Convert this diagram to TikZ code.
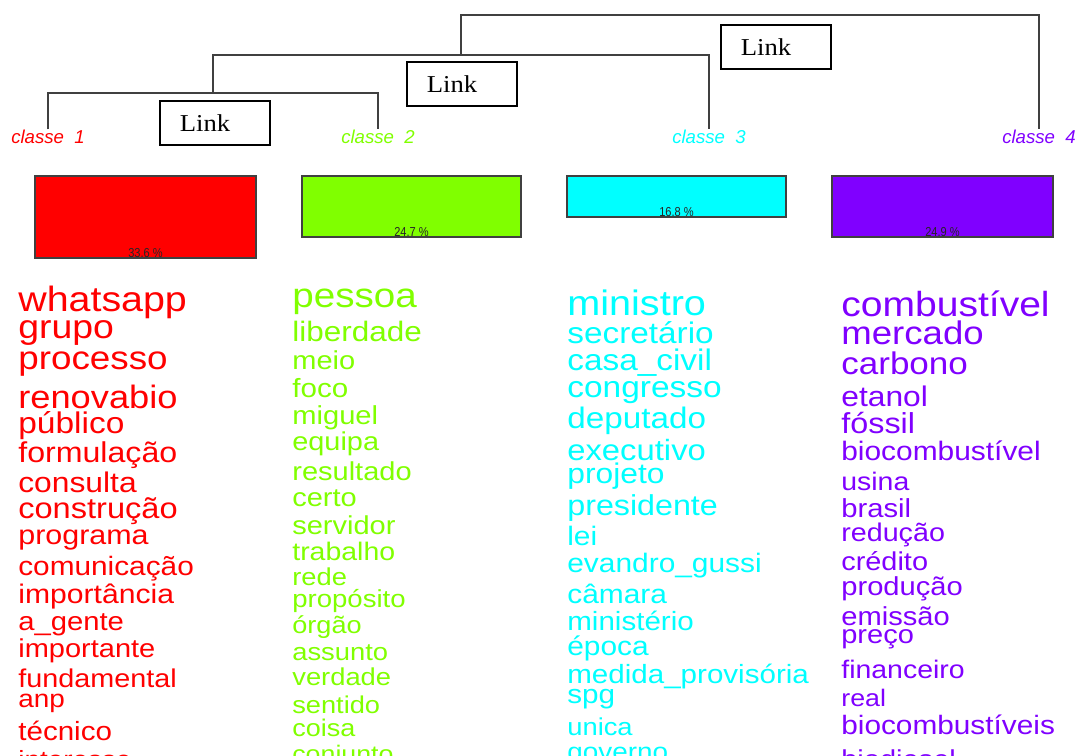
\documentclass[tikz,border=0pt]{standalone}
\usepackage{fontspec}
\setmainfont{Liberation Sans}
\newfontfamily\cloudfont[FakeStretch=1.12]{Liberation Sans}
\newfontfamily\linkfont[FakeStretch=1.1]{Liberation Serif}
\newfontfamily\pctfont[FakeStretch=0.85]{Liberation Sans}

\definecolor{classeA}{HTML}{FF0000}
\definecolor{classeB}{HTML}{80FF00}
\definecolor{classeC}{HTML}{00FFFF}
\definecolor{classeD}{HTML}{8000FF}

\begin{document}
\begin{tikzpicture}[
        x = 0.02cm, y = -0.02cm,
        tree/.style = {draw = black!75, line width = 0.9pt},
        linkbox/.style = {%
            draw, line width = 0.9pt, anchor = north west,
            inner xsep = 0.4cm, inner ysep = 0pt,
            text width = 1.4cm, minimum height = 0.88cm,
            font = \linkfont\fontsize{13.8}{14}\selectfont
        },
        classlabel/.style = {%
            anchor = base, inner sep = 0pt,
            font = \itshape\fontsize{10.6}{12}\selectfont
        },
        bar/.style = {draw = black!75, line width = 0.7pt},
        pct/.style = {%
            anchor = base, inner sep = 0pt, text = black!85,
            font = \pctfont\fontsize{7.4}{8}\selectfont
        },
        word/.style = {anchor = base west, inner sep = 0pt}
    ]

        \useasboundingbox (0,0) rectangle (1077,756);
        \clip (0,0) rectangle (1077,756);

        % Class labels.
        \node[classlabel, text = classeA] (c1) at (48,144)   {classe\ \ 1};
        \node[classlabel, text = classeB] (c2) at (378,144)  {classe\ \ 2};
        \node[classlabel, text = classeC] (c3) at (709,144)  {classe\ \ 3};
        \node[classlabel, text = classeD] (c4) at (1039,144) {classe\ \ 4};

        % Junctions of the tree.
        \coordinate (j12)  at (213,93);
        \coordinate (j123) at (461,55);
        \coordinate (jall) at (461,15);

        % Tree.
        \draw[tree] ([yshift = 0.5pt]c1.north) |- (j12) -| ([yshift = 0.5pt]c2.north);
        \draw[tree] (j12) -- (j12 |- j123) -| ([yshift = 0.5pt]c3.north);
        \draw[tree] (j123) -- (jall) -| ([yshift = 0.5pt]c4.north);

        % Link boxes.
        \node[linkbox] (l1) at (159,100) {Link};
        \node[linkbox] (l2) at (406,61)  {Link};
        \node[linkbox] (l3) at (720,24)  {Link};

        % Bars with their shares.
        \draw[bar, fill = classeA] (35,176)  rectangle (256,258);
        \draw[bar, fill = classeB] (302,176) rectangle (521,237);
        \draw[bar, fill = classeC] (567,176) rectangle (786,217);
        \draw[bar, fill = classeD] (832,176) rectangle (1053,237);
        \node[pct] (p1) at (145.5,257.5) {33.6 \%};
        \node[pct] (p2) at (411.5,236.5) {24.7 \%};
        \node[pct] (p3) at (676.5,216.5) {16.8 \%};
        \node[pct] (p4) at (942.5,236.5) {24.9 \%};

        % Words of classe 1.
        \foreach \txt/\yy/\s [count = \i] in {%
            whatsapp/312/35.3, grupo/338/33.5, processo/370/33,
            renovabio/408/32.5, público/433/30, formulação/462/28.8,
            consulta/492/28.5, construção/518/29.2, programa/544/27.3,
            comunicação/575/26.7, importância/603/27, a\_gente/630/26.2,
            importante/657/26, fundamental/687/25.8, anp/707/25,
            técnico/740/26.5, interesse/768/25}{%
            \pgfmathsetmacro\fs{\s*0.5669}
            \node[word, text = classeA, font = \cloudfont\fontsize{\fs}{\fs}\selectfont]
                (a\i) at (18,\yy) {\txt};
        }

        % Words of classe 2.
        \foreach \txt/\yy/\s [count = \i] in {%
            pessoa/308/34.6, liberdade/341/28.2, meio/370/26,
            foco/398/26.5, miguel/424/26.1, equipa/450/25.9,
            resultado/480/26, certo/506/26, servidor/534/26,
            trabalho/560/25.5, rede/585/24.5, propósito/607/24.7,
            órgão/633/24.3, assunto/660/24.5, verdade/685/24.5,
            sentido/713/24.4, coisa/736/24.2, conjunto/762/24}{%
            \pgfmathsetmacro\fs{\s*0.5669}
            \node[word, text = classeB, font = \cloudfont\fontsize{\fs}{\fs}\selectfont]
                (b\i) at (292,\yy) {\txt};
        }

        % Words of classe 3.
        \foreach \txt/\yy/\s [count = \i] in {%
            ministro/316/35.5, secretário/344/29.9, casa\_civil/371/29.9,
            congresso/398/30, deputado/428/29.8, executivo/460/29.4,
            projeto/483/28.5, presidente/515/28.9, lei/545/26.8,
            evandro\_gussi/572/26.8, câmara/603/26.8, ministério/630/26.5,
            época/655/26.8, medida\_provisória/683/26.5, spg/703/26.6,
            unica/735/24.5, governo/760/25}{%
            \pgfmathsetmacro\fs{\s*0.5669}
            \node[word, text = classeC, font = \cloudfont\fontsize{\fs}{\fs}\selectfont]
                (c3\i) at (567,\yy) {\txt};
        }

        % Words of classe 4.
        \foreach \txt/\yy/\s [count = \i] in {%
            combustível/317/35, mercado/345/32.8, carbono/375/31.4,
            etanol/406/28.5, fóssil/433/29, biocombustível/460/26.8,
            usina/490/25.5, brasil/517/26.2, redução/541/25.7,
            crédito/570/25.9, produção/595/26.1, emissão/625/26.1,
            preço/643/26, financeiro/678/25.5, real/706/24,
            biocombustíveis/734/26.7, biodiesel/768/26}{%
            \pgfmathsetmacro\fs{\s*0.5669}
            \node[word, text = classeD, font = \cloudfont\fontsize{\fs}{\fs}\selectfont]
                (d\i) at (841,\yy) {\txt};
        }
    \end{tikzpicture}
\end{document}
